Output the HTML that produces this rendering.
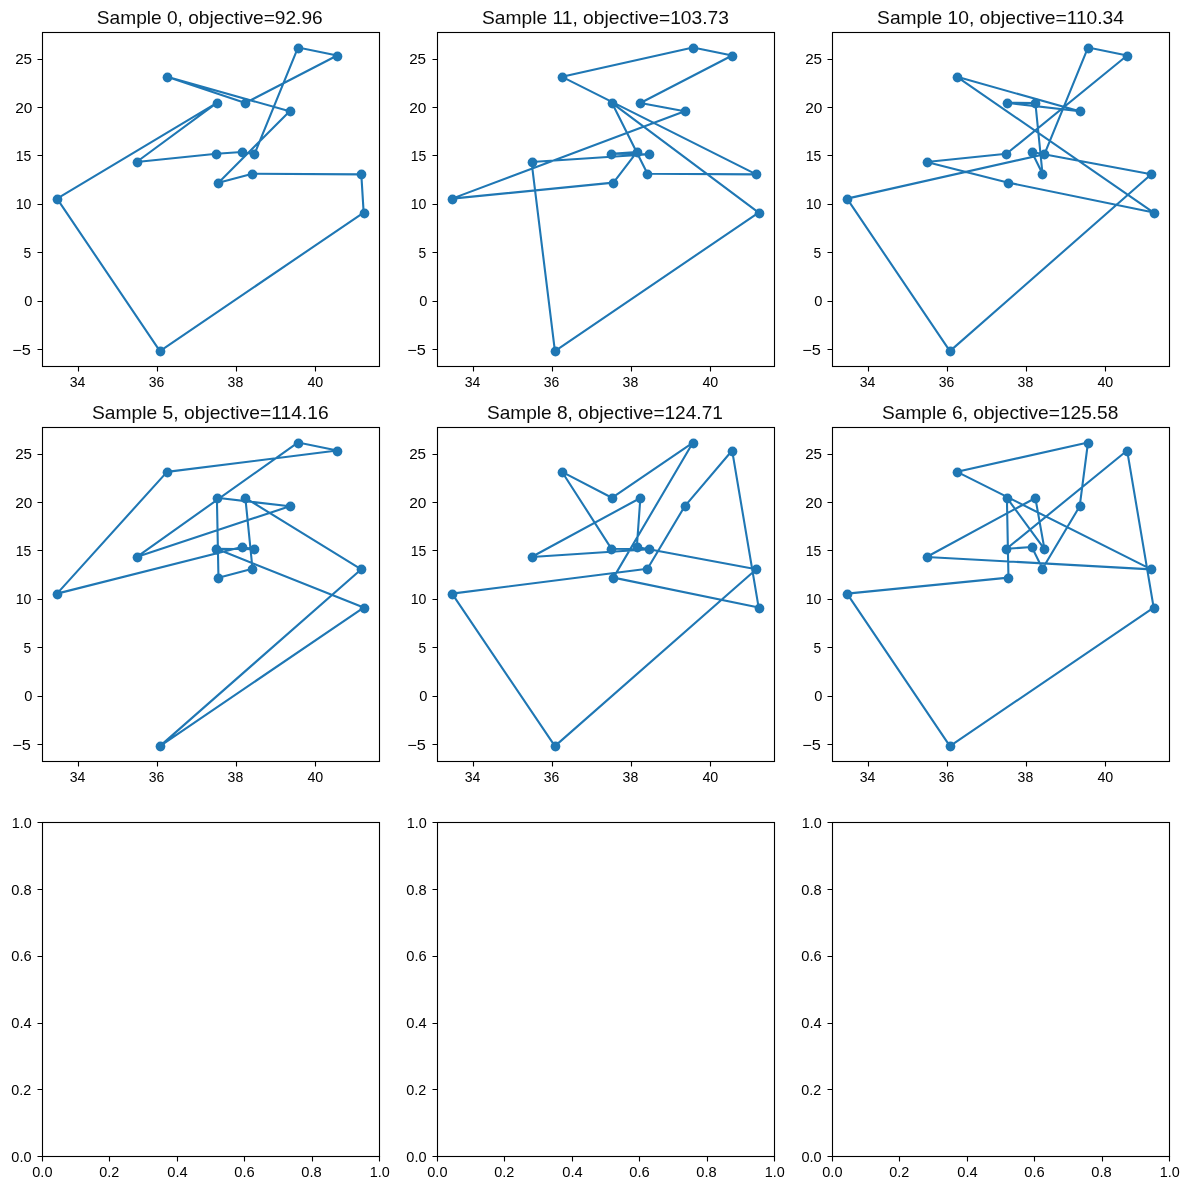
<!DOCTYPE html>
<html lang="en">
<head>
<meta charset="utf-8">
<title>TSP samples</title>
<style>
html,body{margin:0;padding:0;background:#fff;}
body{width:1189px;height:1190px;overflow:hidden;}
svg{display:block;will-change:transform;}
text{font-family:"Liberation Sans",sans-serif;fill:#000;}
.tk{font-size:14.4px;}
.tt{font-size:18.2px;fill:#0b0b0b;}
.sp{fill:none;stroke:#000;stroke-width:1.11;stroke-linejoin:miter;}
.tm{stroke:#000;stroke-width:1.11;fill:none;}
.ln{fill:none;stroke:#1f77b4;stroke-width:2.1;stroke-linejoin:round;stroke-linecap:square;}
.mk{fill:#1f77b4;}
</style>
</head>
<body>
<svg width="1189" height="1190" viewBox="0 0 1189 1190">
<rect x="0" y="0" width="1189" height="1190" fill="#fff"/>
<g>
<polyline class="ln" points="297.99,47.51 337.16,55.55 245.37,102.98 167.04,76.85 289.69,111.31 218.47,182.65 252.5,173.75 361.3,174.33 363.67,212.57 159.92,351.1 57.05,198.63 216.89,102.79 136.58,162.03 216.49,153.81 241.81,152.06 254.47,154.19 297.99,47.51"/>
<circle class="mk" cx="298.5" cy="48.5" r="4.88"/>
<circle class="mk" cx="337.5" cy="56.5" r="4.88"/>
<circle class="mk" cx="245.5" cy="103.5" r="4.88"/>
<circle class="mk" cx="167.5" cy="77.5" r="4.88"/>
<circle class="mk" cx="290.5" cy="111.5" r="4.88"/>
<circle class="mk" cx="218.5" cy="183.5" r="4.88"/>
<circle class="mk" cx="252.5" cy="174.5" r="4.88"/>
<circle class="mk" cx="361.5" cy="174.5" r="4.88"/>
<circle class="mk" cx="364.5" cy="213.5" r="4.88"/>
<circle class="mk" cx="160.5" cy="351.5" r="4.88"/>
<circle class="mk" cx="57.5" cy="199.5" r="4.88"/>
<circle class="mk" cx="217.5" cy="103.5" r="4.88"/>
<circle class="mk" cx="137.5" cy="162.5" r="4.88"/>
<circle class="mk" cx="216.5" cy="154.5" r="4.88"/>
<circle class="mk" cx="242.5" cy="152.5" r="4.88"/>
<circle class="mk" cx="254.5" cy="154.5" r="4.88"/>
<path class="tm" d="M78.5 366V371.5M157.5 366V371.5M236.5 366V371.5M315.5 366V371.5M43 349.5H37.5M43 301.5H37.5M43 252.5H37.5M43 204.5H37.5M43 155.5H37.5M43 107.5H37.5M43 59.5H37.5"/>
<rect class="sp" x="42.5" y="32.5" width="337" height="334"/>
<text class="tk" x="69.7" y="387" textLength="15.64" lengthAdjust="spacingAndGlyphs">34</text>
<text class="tk" x="148.67" y="387" textLength="15.54" lengthAdjust="spacingAndGlyphs">36</text>
<text class="tk" x="227.61" y="387" textLength="15.64" lengthAdjust="spacingAndGlyphs">38</text>
<text class="tk" x="307.41" y="387" textLength="15.88" lengthAdjust="spacingAndGlyphs">40</text>
<text class="tk" x="12.3" y="355" textLength="18.58" lengthAdjust="spacingAndGlyphs">−5</text>
<text class="tk" x="24.33" y="306" textLength="8.16" lengthAdjust="spacingAndGlyphs">0</text>
<text class="tk" x="23.41" y="258" textLength="7.69" lengthAdjust="spacingAndGlyphs">5</text>
<text class="tk" x="15.69" y="209" textLength="15.72" lengthAdjust="spacingAndGlyphs">10</text>
<text class="tk" x="15.69" y="161" textLength="15.56" lengthAdjust="spacingAndGlyphs">15</text>
<text class="tk" x="15.28" y="113" textLength="17.2" lengthAdjust="spacingAndGlyphs">20</text>
<text class="tk" x="15.16" y="64" textLength="16.94" lengthAdjust="spacingAndGlyphs">25</text>
<text class="tt" x="96.87" y="24" textLength="225.82" lengthAdjust="spacingAndGlyphs">Sample 0, objective=92.96</text>
</g>
<g>
<polyline class="ln" points="562.04,76.85 692.99,47.51 732.16,55.55 640.37,102.98 684.69,111.31 452.05,198.63 613.47,182.65 636.81,152.06 611.49,153.81 649.47,154.19 531.58,162.03 554.92,351.1 758.67,212.57 611.89,102.79 647.5,173.75 756.3,174.33 562.04,76.85"/>
<circle class="mk" cx="562.5" cy="77.5" r="4.88"/>
<circle class="mk" cx="693.5" cy="48.5" r="4.88"/>
<circle class="mk" cx="732.5" cy="56.5" r="4.88"/>
<circle class="mk" cx="640.5" cy="103.5" r="4.88"/>
<circle class="mk" cx="685.5" cy="111.5" r="4.88"/>
<circle class="mk" cx="452.5" cy="199.5" r="4.88"/>
<circle class="mk" cx="613.5" cy="183.5" r="4.88"/>
<circle class="mk" cx="637.5" cy="152.5" r="4.88"/>
<circle class="mk" cx="611.5" cy="154.5" r="4.88"/>
<circle class="mk" cx="649.5" cy="154.5" r="4.88"/>
<circle class="mk" cx="532.5" cy="162.5" r="4.88"/>
<circle class="mk" cx="555.5" cy="351.5" r="4.88"/>
<circle class="mk" cx="759.5" cy="213.5" r="4.88"/>
<circle class="mk" cx="612.5" cy="103.5" r="4.88"/>
<circle class="mk" cx="647.5" cy="174.5" r="4.88"/>
<circle class="mk" cx="756.5" cy="174.5" r="4.88"/>
<path class="tm" d="M473.5 366V371.5M552.5 366V371.5M631.5 366V371.5M710.5 366V371.5M438 349.5H432.5M438 301.5H432.5M438 252.5H432.5M438 204.5H432.5M438 155.5H432.5M438 107.5H432.5M438 59.5H432.5"/>
<rect class="sp" x="437.5" y="32.5" width="337" height="334"/>
<text class="tk" x="464.7" y="387" textLength="15.64" lengthAdjust="spacingAndGlyphs">34</text>
<text class="tk" x="543.67" y="387" textLength="15.54" lengthAdjust="spacingAndGlyphs">36</text>
<text class="tk" x="622.61" y="387" textLength="15.64" lengthAdjust="spacingAndGlyphs">38</text>
<text class="tk" x="702.41" y="387" textLength="15.88" lengthAdjust="spacingAndGlyphs">40</text>
<text class="tk" x="407.3" y="355" textLength="18.58" lengthAdjust="spacingAndGlyphs">−5</text>
<text class="tk" x="419.33" y="306" textLength="8.16" lengthAdjust="spacingAndGlyphs">0</text>
<text class="tk" x="418.41" y="258" textLength="7.69" lengthAdjust="spacingAndGlyphs">5</text>
<text class="tk" x="410.69" y="209" textLength="15.72" lengthAdjust="spacingAndGlyphs">10</text>
<text class="tk" x="410.69" y="161" textLength="15.56" lengthAdjust="spacingAndGlyphs">15</text>
<text class="tk" x="409.28" y="113" textLength="17.2" lengthAdjust="spacingAndGlyphs">20</text>
<text class="tk" x="409.16" y="64" textLength="16.94" lengthAdjust="spacingAndGlyphs">25</text>
<text class="tt" x="481.99" y="24" textLength="246.98" lengthAdjust="spacingAndGlyphs">Sample 11, objective=103.73</text>
</g>
<g>
<polyline class="ln" points="1087.99,47.51 1127.16,55.55 1006.49,153.81 926.58,162.03 1008.47,182.65 1153.67,212.57 957.04,76.85 1079.69,111.31 1006.89,102.79 1035.37,102.98 1042.5,173.75 1031.81,152.06 1151.3,174.33 949.92,351.1 847.05,198.63 1044.47,154.19 1087.99,47.51"/>
<circle class="mk" cx="1088.5" cy="48.5" r="4.88"/>
<circle class="mk" cx="1127.5" cy="56.5" r="4.88"/>
<circle class="mk" cx="1006.5" cy="154.5" r="4.88"/>
<circle class="mk" cx="927.5" cy="162.5" r="4.88"/>
<circle class="mk" cx="1008.5" cy="183.5" r="4.88"/>
<circle class="mk" cx="1154.5" cy="213.5" r="4.88"/>
<circle class="mk" cx="957.5" cy="77.5" r="4.88"/>
<circle class="mk" cx="1080.5" cy="111.5" r="4.88"/>
<circle class="mk" cx="1007.5" cy="103.5" r="4.88"/>
<circle class="mk" cx="1035.5" cy="103.5" r="4.88"/>
<circle class="mk" cx="1042.5" cy="174.5" r="4.88"/>
<circle class="mk" cx="1032.5" cy="152.5" r="4.88"/>
<circle class="mk" cx="1151.5" cy="174.5" r="4.88"/>
<circle class="mk" cx="950.5" cy="351.5" r="4.88"/>
<circle class="mk" cx="847.5" cy="199.5" r="4.88"/>
<circle class="mk" cx="1044.5" cy="154.5" r="4.88"/>
<path class="tm" d="M868.5 366V371.5M947.5 366V371.5M1026.5 366V371.5M1105.5 366V371.5M833 349.5H827.5M833 301.5H827.5M833 252.5H827.5M833 204.5H827.5M833 155.5H827.5M833 107.5H827.5M833 59.5H827.5"/>
<rect class="sp" x="832.5" y="32.5" width="337" height="334"/>
<text class="tk" x="859.7" y="387" textLength="15.64" lengthAdjust="spacingAndGlyphs">34</text>
<text class="tk" x="938.67" y="387" textLength="15.54" lengthAdjust="spacingAndGlyphs">36</text>
<text class="tk" x="1017.61" y="387" textLength="15.64" lengthAdjust="spacingAndGlyphs">38</text>
<text class="tk" x="1097.41" y="387" textLength="15.88" lengthAdjust="spacingAndGlyphs">40</text>
<text class="tk" x="802.3" y="355" textLength="18.58" lengthAdjust="spacingAndGlyphs">−5</text>
<text class="tk" x="814.33" y="306" textLength="8.16" lengthAdjust="spacingAndGlyphs">0</text>
<text class="tk" x="813.41" y="258" textLength="7.69" lengthAdjust="spacingAndGlyphs">5</text>
<text class="tk" x="805.69" y="209" textLength="15.72" lengthAdjust="spacingAndGlyphs">10</text>
<text class="tk" x="805.69" y="161" textLength="15.56" lengthAdjust="spacingAndGlyphs">15</text>
<text class="tk" x="805.28" y="113" textLength="17.2" lengthAdjust="spacingAndGlyphs">20</text>
<text class="tk" x="805.16" y="64" textLength="16.94" lengthAdjust="spacingAndGlyphs">25</text>
<text class="tt" x="877.08" y="24" textLength="246.91" lengthAdjust="spacingAndGlyphs">Sample 10, objective=110.34</text>
</g>
<g>
<polyline class="ln" points="297.99,442.51 337.16,450.55 167.04,471.85 57.05,593.63 241.81,547.06 254.47,549.19 216.49,548.81 363.67,607.57 159.92,746.1 361.3,569.33 245.37,497.98 252.5,568.75 218.47,577.65 216.89,497.79 289.69,506.31 136.58,557.03 297.99,442.51"/>
<circle class="mk" cx="298.5" cy="443.5" r="4.88"/>
<circle class="mk" cx="337.5" cy="451.5" r="4.88"/>
<circle class="mk" cx="167.5" cy="472.5" r="4.88"/>
<circle class="mk" cx="57.5" cy="594.5" r="4.88"/>
<circle class="mk" cx="242.5" cy="547.5" r="4.88"/>
<circle class="mk" cx="254.5" cy="549.5" r="4.88"/>
<circle class="mk" cx="216.5" cy="549.5" r="4.88"/>
<circle class="mk" cx="364.5" cy="608.5" r="4.88"/>
<circle class="mk" cx="160.5" cy="746.5" r="4.88"/>
<circle class="mk" cx="361.5" cy="569.5" r="4.88"/>
<circle class="mk" cx="245.5" cy="498.5" r="4.88"/>
<circle class="mk" cx="252.5" cy="569.5" r="4.88"/>
<circle class="mk" cx="218.5" cy="578.5" r="4.88"/>
<circle class="mk" cx="217.5" cy="498.5" r="4.88"/>
<circle class="mk" cx="290.5" cy="506.5" r="4.88"/>
<circle class="mk" cx="137.5" cy="557.5" r="4.88"/>
<path class="tm" d="M78.5 761V766.5M157.5 761V766.5M236.5 761V766.5M315.5 761V766.5M43 744.5H37.5M43 696.5H37.5M43 647.5H37.5M43 599.5H37.5M43 550.5H37.5M43 502.5H37.5M43 454.5H37.5"/>
<rect class="sp" x="42.5" y="427.5" width="337" height="334"/>
<text class="tk" x="69.7" y="782" textLength="15.64" lengthAdjust="spacingAndGlyphs">34</text>
<text class="tk" x="148.67" y="782" textLength="15.54" lengthAdjust="spacingAndGlyphs">36</text>
<text class="tk" x="227.61" y="782" textLength="15.64" lengthAdjust="spacingAndGlyphs">38</text>
<text class="tk" x="307.41" y="782" textLength="15.88" lengthAdjust="spacingAndGlyphs">40</text>
<text class="tk" x="12.3" y="750" textLength="18.58" lengthAdjust="spacingAndGlyphs">−5</text>
<text class="tk" x="24.33" y="701" textLength="8.16" lengthAdjust="spacingAndGlyphs">0</text>
<text class="tk" x="23.41" y="653" textLength="7.69" lengthAdjust="spacingAndGlyphs">5</text>
<text class="tk" x="15.69" y="604" textLength="15.72" lengthAdjust="spacingAndGlyphs">10</text>
<text class="tk" x="15.69" y="556" textLength="15.56" lengthAdjust="spacingAndGlyphs">15</text>
<text class="tk" x="15.28" y="508" textLength="17.2" lengthAdjust="spacingAndGlyphs">20</text>
<text class="tk" x="15.16" y="459" textLength="16.94" lengthAdjust="spacingAndGlyphs">25</text>
<text class="tt" x="91.99" y="419" textLength="236.61" lengthAdjust="spacingAndGlyphs">Sample 5, objective=114.16</text>
</g>
<g>
<polyline class="ln" points="562.04,471.85 611.89,497.79 692.99,442.51 613.47,577.65 758.67,607.57 732.16,450.55 684.69,506.31 647.5,568.75 452.05,593.63 554.92,746.1 756.3,569.33 636.81,547.06 640.37,497.98 531.58,557.03 649.47,549.19 611.49,548.81 562.04,471.85"/>
<circle class="mk" cx="562.5" cy="472.5" r="4.88"/>
<circle class="mk" cx="612.5" cy="498.5" r="4.88"/>
<circle class="mk" cx="693.5" cy="443.5" r="4.88"/>
<circle class="mk" cx="613.5" cy="578.5" r="4.88"/>
<circle class="mk" cx="759.5" cy="608.5" r="4.88"/>
<circle class="mk" cx="732.5" cy="451.5" r="4.88"/>
<circle class="mk" cx="685.5" cy="506.5" r="4.88"/>
<circle class="mk" cx="647.5" cy="569.5" r="4.88"/>
<circle class="mk" cx="452.5" cy="594.5" r="4.88"/>
<circle class="mk" cx="555.5" cy="746.5" r="4.88"/>
<circle class="mk" cx="756.5" cy="569.5" r="4.88"/>
<circle class="mk" cx="637.5" cy="547.5" r="4.88"/>
<circle class="mk" cx="640.5" cy="498.5" r="4.88"/>
<circle class="mk" cx="532.5" cy="557.5" r="4.88"/>
<circle class="mk" cx="649.5" cy="549.5" r="4.88"/>
<circle class="mk" cx="611.5" cy="549.5" r="4.88"/>
<path class="tm" d="M473.5 761V766.5M552.5 761V766.5M631.5 761V766.5M710.5 761V766.5M438 744.5H432.5M438 696.5H432.5M438 647.5H432.5M438 599.5H432.5M438 550.5H432.5M438 502.5H432.5M438 454.5H432.5"/>
<rect class="sp" x="437.5" y="427.5" width="337" height="334"/>
<text class="tk" x="464.7" y="782" textLength="15.64" lengthAdjust="spacingAndGlyphs">34</text>
<text class="tk" x="543.67" y="782" textLength="15.54" lengthAdjust="spacingAndGlyphs">36</text>
<text class="tk" x="622.61" y="782" textLength="15.64" lengthAdjust="spacingAndGlyphs">38</text>
<text class="tk" x="702.41" y="782" textLength="15.88" lengthAdjust="spacingAndGlyphs">40</text>
<text class="tk" x="407.3" y="750" textLength="18.58" lengthAdjust="spacingAndGlyphs">−5</text>
<text class="tk" x="419.33" y="701" textLength="8.16" lengthAdjust="spacingAndGlyphs">0</text>
<text class="tk" x="418.41" y="653" textLength="7.69" lengthAdjust="spacingAndGlyphs">5</text>
<text class="tk" x="410.69" y="604" textLength="15.72" lengthAdjust="spacingAndGlyphs">10</text>
<text class="tk" x="410.69" y="556" textLength="15.56" lengthAdjust="spacingAndGlyphs">15</text>
<text class="tk" x="409.28" y="508" textLength="17.2" lengthAdjust="spacingAndGlyphs">20</text>
<text class="tk" x="409.16" y="459" textLength="16.94" lengthAdjust="spacingAndGlyphs">25</text>
<text class="tt" x="486.95" y="419" textLength="235.92" lengthAdjust="spacingAndGlyphs">Sample 8, objective=124.71</text>
</g>
<g>
<polyline class="ln" points="957.04,471.85 1087.99,442.51 1079.69,506.31 1042.5,568.75 1031.81,547.06 1006.49,548.81 1127.16,450.55 1153.67,607.57 949.92,746.1 847.05,593.63 1008.47,577.65 1006.89,497.79 1044.47,549.19 1035.37,497.98 926.58,557.03 1151.3,569.33 957.04,471.85"/>
<circle class="mk" cx="957.5" cy="472.5" r="4.88"/>
<circle class="mk" cx="1088.5" cy="443.5" r="4.88"/>
<circle class="mk" cx="1080.5" cy="506.5" r="4.88"/>
<circle class="mk" cx="1042.5" cy="569.5" r="4.88"/>
<circle class="mk" cx="1032.5" cy="547.5" r="4.88"/>
<circle class="mk" cx="1006.5" cy="549.5" r="4.88"/>
<circle class="mk" cx="1127.5" cy="451.5" r="4.88"/>
<circle class="mk" cx="1154.5" cy="608.5" r="4.88"/>
<circle class="mk" cx="950.5" cy="746.5" r="4.88"/>
<circle class="mk" cx="847.5" cy="594.5" r="4.88"/>
<circle class="mk" cx="1008.5" cy="578.5" r="4.88"/>
<circle class="mk" cx="1007.5" cy="498.5" r="4.88"/>
<circle class="mk" cx="1044.5" cy="549.5" r="4.88"/>
<circle class="mk" cx="1035.5" cy="498.5" r="4.88"/>
<circle class="mk" cx="927.5" cy="557.5" r="4.88"/>
<circle class="mk" cx="1151.5" cy="569.5" r="4.88"/>
<path class="tm" d="M868.5 761V766.5M947.5 761V766.5M1026.5 761V766.5M1105.5 761V766.5M833 744.5H827.5M833 696.5H827.5M833 647.5H827.5M833 599.5H827.5M833 550.5H827.5M833 502.5H827.5M833 454.5H827.5"/>
<rect class="sp" x="832.5" y="427.5" width="337" height="334"/>
<text class="tk" x="859.7" y="782" textLength="15.64" lengthAdjust="spacingAndGlyphs">34</text>
<text class="tk" x="938.67" y="782" textLength="15.54" lengthAdjust="spacingAndGlyphs">36</text>
<text class="tk" x="1017.61" y="782" textLength="15.64" lengthAdjust="spacingAndGlyphs">38</text>
<text class="tk" x="1097.41" y="782" textLength="15.88" lengthAdjust="spacingAndGlyphs">40</text>
<text class="tk" x="802.3" y="750" textLength="18.58" lengthAdjust="spacingAndGlyphs">−5</text>
<text class="tk" x="814.33" y="701" textLength="8.16" lengthAdjust="spacingAndGlyphs">0</text>
<text class="tk" x="813.41" y="653" textLength="7.69" lengthAdjust="spacingAndGlyphs">5</text>
<text class="tk" x="805.69" y="604" textLength="15.72" lengthAdjust="spacingAndGlyphs">10</text>
<text class="tk" x="805.69" y="556" textLength="15.56" lengthAdjust="spacingAndGlyphs">15</text>
<text class="tk" x="805.28" y="508" textLength="17.2" lengthAdjust="spacingAndGlyphs">20</text>
<text class="tk" x="805.16" y="459" textLength="16.94" lengthAdjust="spacingAndGlyphs">25</text>
<text class="tt" x="882.02" y="419" textLength="236.33" lengthAdjust="spacingAndGlyphs">Sample 6, objective=125.58</text>
</g>
<g>
<path class="tm" d="M42.5 1156V1161.5M109.5 1156V1161.5M177.5 1156V1161.5M244.5 1156V1161.5M312.5 1156V1161.5M379.5 1156V1161.5M43 1156.5H37.5M43 1089.5H37.5M43 1023.5H37.5M43 956.5H37.5M43 889.5H37.5M43 822.5H37.5"/>
<rect class="sp" x="42.5" y="822.5" width="337" height="334"/>
<text class="tk" x="32.31" y="1177" textLength="20.18" lengthAdjust="spacingAndGlyphs">0.0</text>
<text class="tk" x="99.22" y="1177" textLength="19.99" lengthAdjust="spacingAndGlyphs">0.2</text>
<text class="tk" x="167.33" y="1177" textLength="20.45" lengthAdjust="spacingAndGlyphs">0.4</text>
<text class="tk" x="234.39" y="1177" textLength="20.39" lengthAdjust="spacingAndGlyphs">0.6</text>
<text class="tk" x="301.34" y="1177" textLength="20.39" lengthAdjust="spacingAndGlyphs">0.8</text>
<text class="tk" x="369.7" y="1177" textLength="20.03" lengthAdjust="spacingAndGlyphs">1.0</text>
<text class="tk" x="11.38" y="1162" textLength="20.18" lengthAdjust="spacingAndGlyphs">0.0</text>
<text class="tk" x="11.32" y="1095" textLength="19.94" lengthAdjust="spacingAndGlyphs">0.2</text>
<text class="tk" x="11.27" y="1028" textLength="20.47" lengthAdjust="spacingAndGlyphs">0.4</text>
<text class="tk" x="11.3" y="961" textLength="20.39" lengthAdjust="spacingAndGlyphs">0.6</text>
<text class="tk" x="11.32" y="895" textLength="20.41" lengthAdjust="spacingAndGlyphs">0.8</text>
<text class="tk" x="11.7" y="828" textLength="20.03" lengthAdjust="spacingAndGlyphs">1.0</text>
</g>
<g>
<path class="tm" d="M437.5 1156V1161.5M504.5 1156V1161.5M572.5 1156V1161.5M639.5 1156V1161.5M707.5 1156V1161.5M774.5 1156V1161.5M438 1156.5H432.5M438 1089.5H432.5M438 1023.5H432.5M438 956.5H432.5M438 889.5H432.5M438 822.5H432.5"/>
<rect class="sp" x="437.5" y="822.5" width="337" height="334"/>
<text class="tk" x="427.31" y="1177" textLength="20.18" lengthAdjust="spacingAndGlyphs">0.0</text>
<text class="tk" x="494.24" y="1177" textLength="20.08" lengthAdjust="spacingAndGlyphs">0.2</text>
<text class="tk" x="562.33" y="1177" textLength="20.45" lengthAdjust="spacingAndGlyphs">0.4</text>
<text class="tk" x="629.39" y="1177" textLength="20.39" lengthAdjust="spacingAndGlyphs">0.6</text>
<text class="tk" x="696.34" y="1177" textLength="20.39" lengthAdjust="spacingAndGlyphs">0.8</text>
<text class="tk" x="764.7" y="1177" textLength="20.03" lengthAdjust="spacingAndGlyphs">1.0</text>
<text class="tk" x="406.38" y="1162" textLength="20.18" lengthAdjust="spacingAndGlyphs">0.0</text>
<text class="tk" x="406.32" y="1095" textLength="19.94" lengthAdjust="spacingAndGlyphs">0.2</text>
<text class="tk" x="406.27" y="1028" textLength="20.47" lengthAdjust="spacingAndGlyphs">0.4</text>
<text class="tk" x="406.3" y="961" textLength="20.39" lengthAdjust="spacingAndGlyphs">0.6</text>
<text class="tk" x="406.32" y="895" textLength="20.41" lengthAdjust="spacingAndGlyphs">0.8</text>
<text class="tk" x="406.7" y="828" textLength="20.03" lengthAdjust="spacingAndGlyphs">1.0</text>
</g>
<g>
<path class="tm" d="M832.5 1156V1161.5M899.5 1156V1161.5M967.5 1156V1161.5M1034.5 1156V1161.5M1102.5 1156V1161.5M1169.5 1156V1161.5M833 1156.5H827.5M833 1089.5H827.5M833 1023.5H827.5M833 956.5H827.5M833 889.5H827.5M833 822.5H827.5"/>
<rect class="sp" x="832.5" y="822.5" width="337" height="334"/>
<text class="tk" x="822.31" y="1177" textLength="20.18" lengthAdjust="spacingAndGlyphs">0.0</text>
<text class="tk" x="889.24" y="1177" textLength="20.08" lengthAdjust="spacingAndGlyphs">0.2</text>
<text class="tk" x="957.33" y="1177" textLength="20.45" lengthAdjust="spacingAndGlyphs">0.4</text>
<text class="tk" x="1024.39" y="1177" textLength="20.39" lengthAdjust="spacingAndGlyphs">0.6</text>
<text class="tk" x="1091.34" y="1177" textLength="20.39" lengthAdjust="spacingAndGlyphs">0.8</text>
<text class="tk" x="1159.7" y="1177" textLength="20.03" lengthAdjust="spacingAndGlyphs">1.0</text>
<text class="tk" x="801.38" y="1162" textLength="20.18" lengthAdjust="spacingAndGlyphs">0.0</text>
<text class="tk" x="801.33" y="1095" textLength="19.94" lengthAdjust="spacingAndGlyphs">0.2</text>
<text class="tk" x="801.27" y="1028" textLength="20.47" lengthAdjust="spacingAndGlyphs">0.4</text>
<text class="tk" x="801.3" y="961" textLength="20.39" lengthAdjust="spacingAndGlyphs">0.6</text>
<text class="tk" x="801.32" y="895" textLength="20.41" lengthAdjust="spacingAndGlyphs">0.8</text>
<text class="tk" x="801.7" y="828" textLength="20.03" lengthAdjust="spacingAndGlyphs">1.0</text>
</g>
</svg>
</body>
</html>
